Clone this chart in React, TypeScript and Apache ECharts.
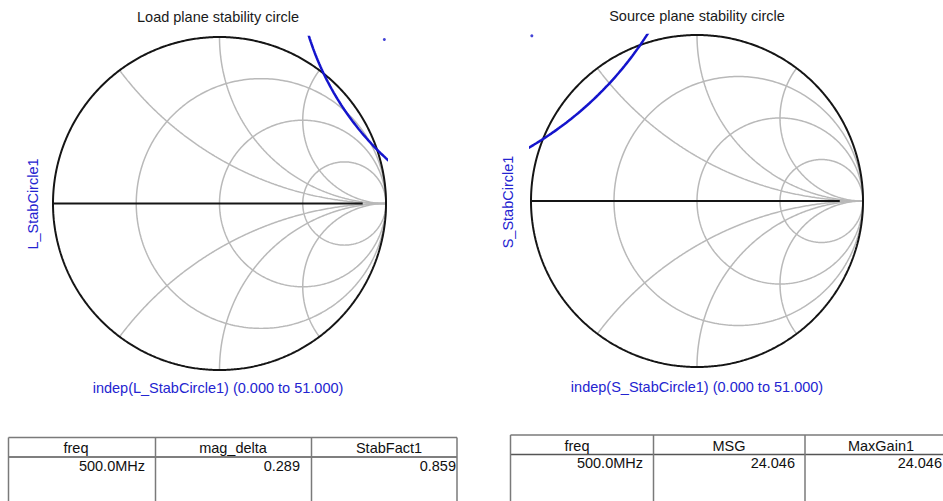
import React, { useEffect, useRef } from 'react';
import * as echarts from 'echarts';

// ---- Smith chart grid values ----
const RESISTANCE_CIRCLES = [1 / 3, 1, 3];
const REACTANCE_ARCS = [0.5, 1, 2];

// ---- Texts ----
const LOAD_TITLE = 'Load plane stability circle';
const SOURCE_TITLE = 'Source plane stability circle';
const LOAD_Y_LABEL = 'L_StabCircle1';
const SOURCE_Y_LABEL = 'S_StabCircle1';
const LOAD_X_LABEL = 'indep(L_StabCircle1) (0.000 to 51.000)';
const SOURCE_X_LABEL = 'indep(S_StabCircle1) (0.000 to 51.000)';

// ---- Stability circles (in reflection-coefficient plane) ----
const LOAD_STAB_CENTER = [2.15, 1.51];
const LOAD_STAB_RADIUS = 1.69;
const SOURCE_STAB_CENTER = [-2.06, 2.13];
const SOURCE_STAB_RADIUS = 2.09;
const LOAD_MARKER = [0.99, 0.985];
const SOURCE_MARKER = [-0.995, 0.995];

// ---- Tables ----
const TABLE1_HEADERS = ['freq', 'mag_delta', 'StabFact1'];
const TABLE1_VALUES = ['500.0MHz', '0.289', '0.859'];
const TABLE2_HEADERS = ['freq', 'MSG', 'MaxGain1'];
const TABLE2_VALUES = ['500.0MHz', '24.046', '24.046'];

const FONT = '"Liberation Sans", Arial, Helvetica, sans-serif';
const BLUE_TEXT = '#2424d0';
const BLUE_LINE = '#1414cc';
const GRID_GRAY = '#b9b9b9';

function circlePoints(cx: number, cy: number, r: number, n = 360): number[][] {
  const pts: number[][] = [];
  for (let i = 0; i <= n; i++) {
    const a = (i / n) * Math.PI * 2;
    pts.push([cx + r * Math.cos(a), cy + r * Math.sin(a)]);
  }
  return pts;
}

function reactancePoints(x: number, n = 300): number[][] {
  const pts: number[][] = [];
  for (let i = 0; i < n; i++) {
    const t = i / n;
    const rr = Math.tan((t * Math.PI) / 2);
    const den = (rr + 1) * (rr + 1) + x * x;
    pts.push([(rr * rr - 1 + x * x) / den, (2 * x) / den]);
  }
  pts.push([1, 0]);
  return pts;
}

function smithSeries(idx: number, center: number[], radius: number, marker: number[]) {
  const base = { type: 'line', xAxisIndex: idx, yAxisIndex: idx, showSymbol: false, silent: true, clip: true };
  const s: any[] = [];
  RESISTANCE_CIRCLES.forEach((r) => {
    s.push({ ...base, z: 1, data: circlePoints(r / (1 + r), 0, 1 / (1 + r)), lineStyle: { color: GRID_GRAY, width: 1.5 } });
  });
  REACTANCE_ARCS.forEach((x) => {
    s.push({ ...base, z: 1, data: reactancePoints(x), lineStyle: { color: GRID_GRAY, width: 1.5 } });
    s.push({ ...base, z: 1, data: reactancePoints(-x), lineStyle: { color: GRID_GRAY, width: 1.5 } });
  });
  s.push({ ...base, z: 2, data: [[-1, 0], [0.86, 0]], lineStyle: { color: '#151515', width: 2 } });
  s.push({ ...base, z: 2, data: circlePoints(0, 0, 1, 720), lineStyle: { color: '#151515', width: 2 } });
  s.push({ ...base, z: 3, data: circlePoints(center[0], center[1], radius, 720), lineStyle: { color: BLUE_LINE, width: 2.5 } });
  s.push({ type: 'scatter', xAxisIndex: idx, yAxisIndex: idx, silent: true, z: 3, symbolSize: 3, data: [marker], itemStyle: { color: BLUE_LINE } });
  return s;
}

function tableGraphics(cols: number[], top: number, headBottom: number, headers: string[], headerX: number[], values: string[], valueRight: number[], headY: number, valY: number) {
  const g: any[] = [];
  const bottom = 520;
  const stroke = '#7a7a7a';
  g.push({ type: 'line', shape: { x1: cols[0], y1: top, x2: cols[cols.length - 1], y2: top }, style: { stroke, lineWidth: 1.5 } });
  g.push({ type: 'line', shape: { x1: cols[0], y1: headBottom, x2: cols[cols.length - 1], y2: headBottom }, style: { stroke: '#555', lineWidth: 1.5 } });
  cols.forEach((c) => {
    g.push({ type: 'line', shape: { x1: c, y1: top, x2: c, y2: bottom }, style: { stroke, lineWidth: 1.5 } });
  });
  headers.forEach((h, i) => {
    g.push({ type: 'text', x: headerX[i], y: headY, style: { text: h, fontSize: 14.5, fontFamily: FONT, fill: '#111', align: 'center', verticalAlign: 'middle' } });
  });
  values.forEach((v, i) => {
    g.push({ type: 'text', x: valueRight[i], y: valY, style: { text: v, fontSize: 14.5, fontFamily: FONT, fill: '#111', align: 'right', verticalAlign: 'middle' } });
  });
  return g;
}

export default function App() {
  const ref = useRef<HTMLDivElement>(null);
  useEffect(() => {
    if (!ref.current) return;
    const chart = echarts.init(ref.current, undefined, { renderer: 'svg' });
    const axisBase = { type: 'value', min: -1, max: 1, show: false };
    const textStyle = (fill: string) => ({ fontSize: 14.5, fontFamily: FONT, fill, align: 'center', verticalAlign: 'middle' });
    const graphic: any[] = [
      { type: 'text', x: 218, y: 17, style: { text: LOAD_TITLE, ...textStyle('#1a1a1a') } },
      { type: 'text', x: 697, y: 16, style: { text: SOURCE_TITLE, ...textStyle('#1a1a1a') } },
      { type: 'text', x: 33, y: 204, rotation: Math.PI / 2, style: { text: LOAD_Y_LABEL, ...textStyle(BLUE_TEXT) } },
      { type: 'text', x: 508, y: 202, rotation: Math.PI / 2, style: { text: SOURCE_Y_LABEL, ...textStyle(BLUE_TEXT) } },
      { type: 'text', x: 218, y: 388, style: { text: LOAD_X_LABEL, ...textStyle(BLUE_TEXT) } },
      { type: 'text', x: 697, y: 387, style: { text: SOURCE_X_LABEL, ...textStyle(BLUE_TEXT) } },
      ...tableGraphics([8.5, 155.5, 311.5, 457], 437.5, 457, TABLE1_HEADERS, [76, 233, 389], TABLE1_VALUES, [145, 300, 456], 448, 466),
      ...tableGraphics([510.5, 653.5, 805, 960], 435, 454.5, TABLE2_HEADERS, [577, 729, 881], TABLE2_VALUES, [643, 795, 942], 446, 463),
    ];
    chart.setOption({
      animation: false,
      backgroundColor: '#ffffff',
      grid: [
        { left: 53, top: 37, width: 333, height: 333 },
        { left: 531, top: 35, width: 332, height: 332 },
      ],
      xAxis: [{ ...axisBase, gridIndex: 0 }, { ...axisBase, gridIndex: 1 }],
      yAxis: [{ ...axisBase, gridIndex: 0 }, { ...axisBase, gridIndex: 1 }],
      series: [
        ...smithSeries(0, LOAD_STAB_CENTER, LOAD_STAB_RADIUS, LOAD_MARKER),
        ...smithSeries(1, SOURCE_STAB_CENTER, SOURCE_STAB_RADIUS, SOURCE_MARKER),
      ],
      graphic,
    });
    return () => chart.dispose();
  }, []);
  return <div ref={ref} style={{ position: 'fixed', left: 0, top: 0, width: 943, height: 501, background: '#fff' }} />;
}
